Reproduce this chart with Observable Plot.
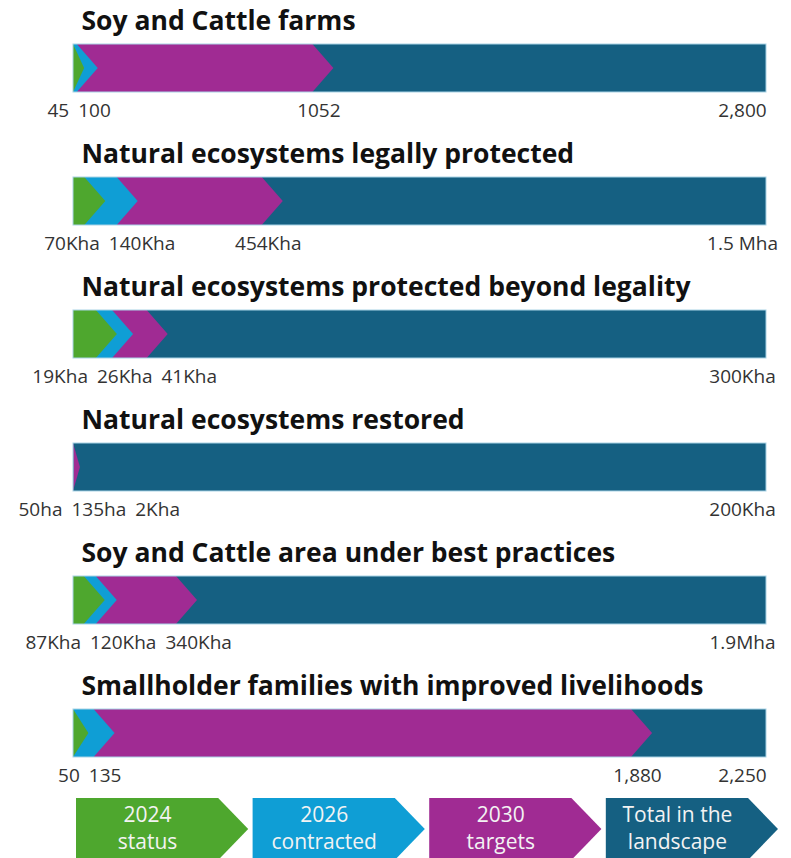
<!DOCTYPE html>
<html><head><meta charset="utf-8">
<script src="https://cdn.jsdelivr.net/npm/d3@7"></script>
<script src="https://cdn.jsdelivr.net/npm/@observablehq/plot@0.6"></script>
<style>
body{margin:0;background:#fff;}
#chart svg{display:block;}
</style>
</head><body><div id="chart"></div>
<script>
// ---- data ----
const titles = [
  "Soy and Cattle farms",
  "Natural ecosystems legally protected",
  "Natural ecosystems protected beyond legality",
  "Natural ecosystems restored",
  "Soy and Cattle area under best practices",
  "Smallholder families with improved livelihoods"
];
// values (panels 2-5 in thousand hectares)
const status2024     = [45, 70, 19, 0.05, 87, 50];
const contracted2026 = [100, 140, 26, 0.135, 120, 135];
const targets2030    = [1052, 454, 41, 2, 340, 1880];
const totals         = [2800, 1500, 300, 200, 1900, 2250];
const labels2024     = ["45", "70Kha", "19Kha", "50ha", "87Kha", "50"];
const labels2026     = ["100", "140Kha", "26Kha", "135ha", "120Kha", "135"];
const labels2030     = ["1052", "454Kha", "41Kha", "2Kha", "340Kha", "1,880"];
const labelsTotal    = ["2,800", "1.5 Mha", "300Kha", "200Kha", "1.9Mha", "2,250"];
const legendNames    = ["2024\nstatus", "2026\ncontracted", "2030\ntargets", "Total in the\nlandscape"];
const seriesColors   = ["#4EA72E", "#0F9ED5", "#A02B93", "#156082"];

// ---- layout ----
const W = 791, PANEL_H = 133, ML = 73, MR = 25, MT = 44, BAR_H = 48;
const FONT = "'Open Sans', Lato, sans-serif";
const LABEL_SIZE = 19;
const canvas = document.createElement("canvas");
const ctx = canvas.getContext("2d");
function textWidth(s) { ctx.font = `${LABEL_SIZE}px 'Open Sans'`; return ctx.measureText(s).width; }

const root = document.getElementById("chart");

titles.forEach((title, i) => {
  const total = totals[i];
  const xs = d3.scaleLinear([0, total], [ML, W - MR]);
  const depth = 21 * total / (W - MR - ML); // chevron depth in data units
  const chevron = (tip) => {
    const b = Math.max(0, tip - depth);
    return [{x: 0, lo: 0, hi: 1}, {x: b, lo: 0, hi: 1}, {x: tip, lo: 0.5, hi: 0.5}];
  };
  // label layout: avoid overlaps
  const vals = [status2024[i], contracted2026[i], targets2030[i]];
  const texts = [labels2024[i], labels2026[i], labels2030[i]];
  const items = vals.map((v, j) => ({text: texts[j], w: textWidth(texts[j]), c: xs(v) - 15}));
  const GAP = 9, MINLEFT = 18;
  for (let it = 0; it < 300; it++) {
    for (let j = 0; j < items.length - 1; j++) {
      const a = items[j], b = items[j + 1];
      const need = (a.w + b.w) / 2 + GAP, dist = b.c - a.c;
      if (dist < need) { const s = (need - dist) / 2; a.c -= s; b.c += s; }
    }
    const f = items[0];
    if (f.c - f.w / 2 < MINLEFT) f.c = MINLEFT + f.w / 2;
  }
  const labelData = items.map(o => ({text: o.text, x: xs.invert(o.c)}));
  labelData.push({text: labelsTotal[i], x: xs.invert(xs(total) - 24)});

  const plot = Plot.plot({
    width: W, height: PANEL_H,
    marginLeft: ML, marginRight: MR, marginTop: MT, marginBottom: PANEL_H - MT - BAR_H,
    x: {domain: [0, total], axis: null},
    y: {domain: [0, 1], axis: null},
    style: {fontFamily: FONT, background: "white", overflow: "visible"},
    marks: [
      Plot.rect([total], {x1: () => 0, x2: d => d, y1: () => 0, y2: () => 1, fill: seriesColors[3]}),
      Plot.area(chevron(targets2030[i]), {x1: "x", y1: "lo", y2: "hi", fill: seriesColors[2]}),
      Plot.area(chevron(contracted2026[i]), {x1: "x", y1: "lo", y2: "hi", fill: seriesColors[1]}),
      Plot.area(chevron(status2024[i]), {x1: "x", y1: "lo", y2: "hi", fill: seriesColors[0]}),
      Plot.rect([total], {x1: () => 0, x2: d => d, y1: () => 0, y2: () => 1, fill: "none", stroke: "#a9d3e6", strokeWidth: 1}),
      Plot.text([title], {frameAnchor: "top-left", dx: 8, dy: -15, lineAnchor: "bottom", textAnchor: "start",
        fontSize: 26.5, fontWeight: 700, fill: "#111"}),
      Plot.text(labelData, {x: "x", y: () => 0, dy: 18, text: "text", fontSize: LABEL_SIZE, fill: "#333", lineAnchor: "middle"})
    ]
  });
  root.appendChild(plot);
});

// ---- legend as chevrons ----
const slotEnd = legendNames.length - 0.025;
const tipDepth = 30 / (702 / slotEnd);
const legendShapes = legendNames.flatMap((name, k) => {
  const s = k, e = k + 0.975, b = e - tipDepth;
  return [{k, x: s, lo: 0, hi: 1}, {k, x: b, lo: 0, hi: 1}, {k, x: e, lo: 0.5, hi: 0.5}];
});
const legend = Plot.plot({
  width: W, height: 62, marginLeft: 76, marginRight: W - 778, marginTop: 0, marginBottom: 0,
  x: {domain: [0, slotEnd], axis: null},
  y: {domain: [0, 1], axis: null},
  style: {fontFamily: FONT, background: "white"},
  marks: [
    Plot.area(legendShapes, {x1: "x", y1: "lo", y2: "hi", z: "k", fill: d => seriesColors[d.k]}),
    Plot.text(legendNames, {x: (d, k) => k + (0.975 - tipDepth) / 2, y: () => 0.5, dy: -3, text: d => d,
      fontSize: 21, lineHeight: 1.3, fill: "#f3f3f3", lineAnchor: "middle"})
  ]
});
root.appendChild(legend);
</script>
</body></html>
